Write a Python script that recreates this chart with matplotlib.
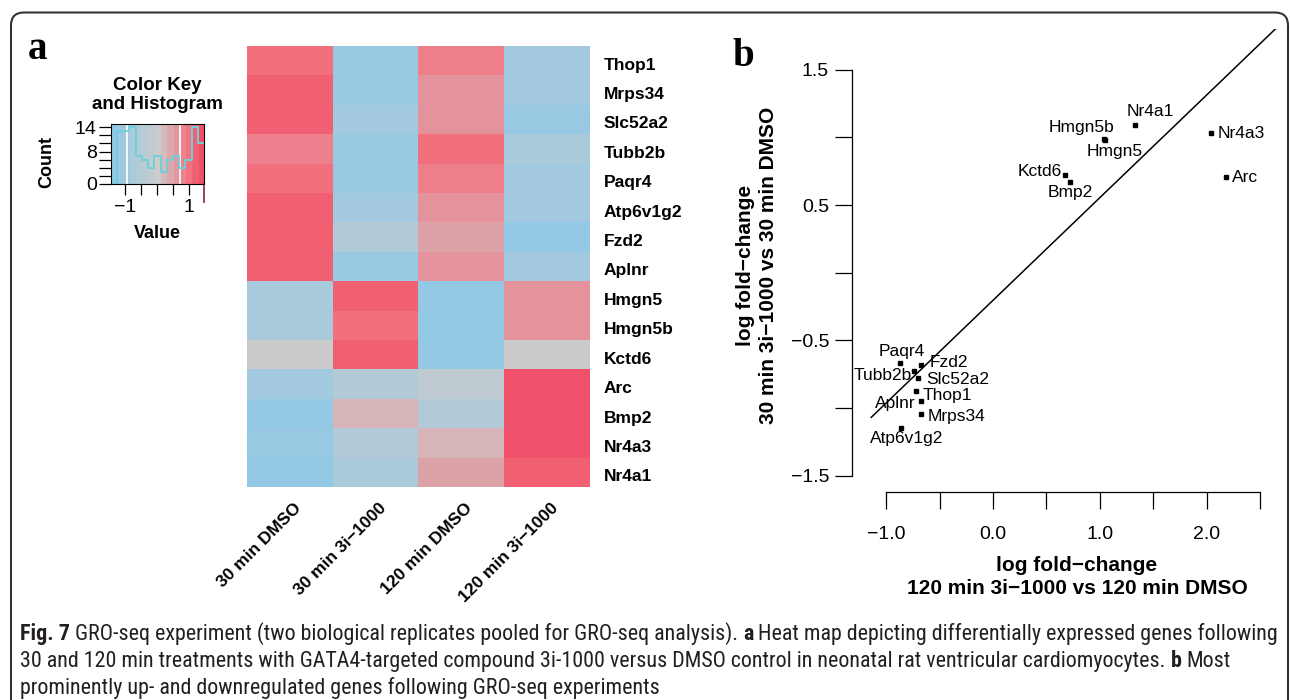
import matplotlib
matplotlib.use("Agg")
import matplotlib.pyplot as plt
import numpy as np
from matplotlib import font_manager
from matplotlib.colors import LinearSegmentedColormap
from matplotlib.patches import FancyBboxPatch
from matplotlib.transforms import IdentityTransform, ScaledTranslation

W, H, DPI = 1290, 700, 100

# ---- panel a: heat map (row-scaled values) ----
GENES = ["Thop1", "Mrps34", "Slc52a2", "Tubb2b", "Paqr4", "Atp6v1g2", "Fzd2", "Aplnr",
         "Hmgn5", "Hmgn5b", "Kctd6", "Arc", "Bmp2", "Nr4a3", "Nr4a1"]
CONDITIONS = ["30 min DMSO", "30 min 3i\u22121000", "120 min DMSO", "120 min 3i\u22121000"]
HEAT_VALUES = [
    [1.07, -1.28, 0.91, -1.07],   # Thop1
    [1.27, -1.28, 0.67, -1.07],   # Mrps34
    [1.27, -1.07, 0.67, -1.28],   # Slc52a2
    [0.88, -1.28, 1.07, -0.87],   # Tubb2b
    [1.07, -1.28, 0.91, -1.07],   # Paqr4
    [1.27, -1.07, 0.67, -1.07],   # Atp6v1g2
    [1.27, -0.64, 0.48, -1.41],   # Fzd2
    [1.27, -1.28, 0.67, -1.07],   # Aplnr
    [-0.87, 1.27, -1.41, 0.67],   # Hmgn5
    [-0.87, 1.07, -1.41, 0.67],   # Hmgn5b
    [0.00, 1.27, -1.41, 0.00],    # Kctd6
    [-1.07, -0.64, -0.33, 1.42],  # Arc
    [-1.41, 0.27, -0.64, 1.42],   # Bmp2
    [-1.28, -0.64, 0.27, 1.42],   # Nr4a3
    [-1.41, -0.87, 0.48, 1.27],   # Nr4a1
]

# colour key histogram
KEY_BREAKS = [-1.46, -1.27, -1.07, -0.88, -0.68, -0.49, -0.29, -0.10,
              0.10, 0.29, 0.49, 0.68, 0.88, 1.07, 1.27, 1.46]
KEY_COUNTS = [0, 13, 13, 14, 7, 6, 4, 7, 3, 6, 7, 4, 6, 14, 10]
KEY_VLINES = [-0.96, 0.71]

# ---- panel b: log fold-changes ----
SCATTER_GENES = ["Nr4a1", "Hmgn5b", "Hmgn5", "Nr4a3", "Arc", "Kctd6", "Bmp2", "Paqr4",
                 "Fzd2", "Tubb2b", "Slc52a2", "Thop1", "Aplnr", "Mrps34", "Atp6v1g2"]
LFC_120 = [1.33, 1.04, 1.05, 2.04, 2.18, 0.67, 0.72, -0.87,
           -0.67, -0.74, -0.70, -0.72, -0.67, -0.67, -0.86]
LFC_30 = [1.09, 0.99, 0.98, 1.03, 0.71, 0.72, 0.67, -0.67,
          -0.68, -0.73, -0.78, -0.875, -0.95, -1.045, -1.15]

# label placement: (dx px, dy px, ha)
LABEL_STYLE = {
    "Nr4a1": (15, -14, "center"), "Hmgn5b": (-23, -11, "center"), "Hmgn5": (10, 11, "center"),
    "Nr4a3": (7, 0, "left"), "Arc": (6, 1, "left"), "Kctd6": (-3, -4, "right"),
    "Bmp2": (0, 10, "center"), "Paqr4": (2, -12, "center"), "Fzd2": (8, -2, "left"),
    "Tubb2b": (-2, 4, "right"), "Slc52a2": (8, 1, "left"), "Thop1": (7, 5, "left"),
    "Aplnr": (-6, 2, "right"), "Mrps34": (6, 3, "left"), "Atp6v1g2": (6, 10, "center"),
}

plt.rcParams["font.family"] = ["Liberation Sans", "DejaVu Sans"]


def pick_caption_font():
    entries = font_manager.fontManager.ttflist
    names = {f.name for f in entries}
    for cand in ["Liberation Sans Narrow", "Noto Sans Condensed", "Roboto Condensed",
                 "Open Sans Condensed", "Noto Sans SemiCondensed", "Open Sans SemiCondensed"]:
        if cand in names:
            return cand, "normal"
    for fam in ["Noto Sans", "Open Sans", "Roboto"]:
        for f in entries:
            if f.name == fam and str(f.stretch) in ("condensed", "semi-condensed", "75", "87.5"):
                return fam, "condensed"
    return "Liberation Sans", "normal"


CAPTION_FONT, CAPTION_STRETCH = pick_caption_font()
CAPTION_COLOR = "#231f20"

cmap = LinearSegmentedColormap.from_list(
    "bgr", [(0.0, "#93c9e6"), (0.5, "#cccccc"), (0.866, "#f3717f"), (1.0, "#f0506a")])
VMAX = 1.46

fig = plt.figure(figsize=(W / DPI, H / DPI), dpi=DPI)


def px_axes(x0, y0, x1, y1):
    return fig.add_axes([x0 / W, 1 - y1 / H, (x1 - x0) / W, (y1 - y0) / H])


def px_text(x, y, s, **kw):
    return fig.text(x / W, 1 - y / H, s, **kw)


# frame around the figure
frame = FancyBboxPatch((11, -40), 1277, H - 12.5 + 40, boxstyle="round,pad=0,rounding_size=13",
                       transform=IdentityTransform(), fill=False, edgecolor="#333333", lw=1.5)
fig.patches.append(frame)

# panel letters
px_text(28, 59, "a", family="Liberation Serif", fontweight="bold", fontsize=28, va="baseline")
px_text(732, 66, "b", family="Liberation Serif", fontweight="bold", fontsize=28, va="baseline")

# ---- heat map ----
ax = px_axes(247, 46, 590, 487)
ax.imshow(np.array(HEAT_VALUES), cmap=cmap, vmin=-VMAX, vmax=VMAX, aspect="auto",
          interpolation="nearest")
ax.set_axis_off()
right_off = ax.transData + ScaledTranslation(14 / DPI, -4.5 / DPI, fig.dpi_scale_trans)
for i, g in enumerate(GENES):
    ax.text(len(CONDITIONS) - 0.5, i, g, transform=right_off, ha="left", va="center",
            fontweight="bold", fontsize=12.5)
down_off = ax.transData + ScaledTranslation(0, -13 / DPI, fig.dpi_scale_trans)
for j, c in enumerate(CONDITIONS):
    ax.text(j + 0.04, len(GENES) - 0.5, c, transform=down_off, rotation=45,
            rotation_mode="anchor", ha="right", va="top", fontweight="bold", fontsize=12.5)

# ---- colour key ----
kax = px_axes(110.7, 124.3, 204, 184)
ytop = max(KEY_COUNTS) / 0.95
grad = np.linspace(-VMAX, VMAX, 300)[None, :]
kax.imshow(grad, cmap=cmap.resampled(15), vmin=-VMAX, vmax=VMAX, aspect="auto",
           extent=[-VMAX, VMAX, 0, ytop], interpolation="nearest")
for v in KEY_VLINES:
    kax.axvline(v, color="white", lw=1.2)
kax.step(KEY_BREAKS, KEY_COUNTS + [KEY_COUNTS[-1]], where="post", color="#6fd0d8", lw=1.4)
kax.set_xlim(-VMAX, VMAX)
kax.set_ylim(0, ytop)
kax.set_xticks([-1, -0.5, 0, 0.5, 1])
kax.set_xticklabels(["\u22121", "", "", "", "1"])
kax.set_yticks(range(0, 15, 2))
kax.set_yticklabels(["0", "", "", "", "8", "", "", "14"])
kax.tick_params(axis="x", length=8, width=0.9, labelsize=14, pad=2.5)
kax.tick_params(axis="y", length=9, width=0.9, labelsize=14, pad=1)
for s in kax.spines.values():
    s.set_linewidth(0.8)
kax.plot([VMAX, VMAX], [0, -0.3 * ytop], color="#8b2035", lw=1.2, clip_on=False)
px_text(157, 95, "Color Key\nand Histogram", ha="center", va="center", fontweight="bold",
        fontsize=13.5, linespacing=1.15)
px_text(47, 162, "Count", ha="center", va="center", rotation=90, fontweight="bold", fontsize=13)
px_text(157, 234, "Value", ha="center", va="center", fontweight="bold", fontsize=13)

# ---- scatter ----
bx = px_axes(852, 29, 1290, 492)
bx.set_xlim(-1.32, 2.78)
bx.set_ylim(-1.622, 1.802)
bx.plot(LFC_120, LFC_30, "s", color="black", ms=2.4, clip_on=False)
slope, intercept = np.polyfit(LFC_120, LFC_30, 1)
xs = np.array([-1.14, 2.78])
bx.plot(xs, slope * xs + intercept, color="black", lw=1.1)
for g, x, y in zip(SCATTER_GENES, LFC_120, LFC_30):
    dx, dy, ha = LABEL_STYLE[g]
    bx.annotate(g, (x, y), xytext=(dx * 0.72, -dy * 0.72), textcoords="offset points",
                ha=ha, va="center", fontsize=12.5)
for side in ("top", "right"):
    bx.spines[side].set_visible(False)
bx.spines["left"].set_bounds(-1.5, 1.5)
bx.spines["bottom"].set_bounds(-1.0, 2.5)
for side in ("left", "bottom"):
    bx.spines[side].set_linewidth(0.9)
bx.set_xticks(np.arange(-1.0, 2.51, 0.5))
bx.set_xticklabels(["\u22121.0", "", "0.0", "", "1.0", "", "2.0", ""])
bx.set_yticks(np.arange(-1.5, 1.51, 0.5))
bx.set_yticklabels(["\u22121.5", "", "\u22120.5", "", "0.5", "", "1.5"])
bx.tick_params(axis="both", length=12.5, width=0.9, labelsize=14)
bx.tick_params(axis="x", pad=12)
bx.tick_params(axis="y", pad=4)
px_text(757, 265, "log fold\u2212change\n30 min 3i\u22121000 vs 30 min DMSO", ha="center",
        va="center", rotation=90, fontweight="bold", fontsize=15, linespacing=1.25,
        multialignment="center")
px_text(1077, 577, "log fold\u2212change\n120 min 3i\u22121000 vs 120 min DMSO", ha="center",
        va="center", fontweight="bold", fontsize=15, linespacing=1.3, multialignment="center")

# ---- caption ----
CAPTION = [
    [("Fig. 7", "bold"), (" GRO-seq experiment (two biological replicates pooled for GRO-seq analysis). ", "normal"),
     ("a", "bold"), (" Heat map depicting differentially expressed genes following", "normal")],
    [("30 and 120 min treatments with GATA4-targeted compound 3i-1000 versus DMSO control in neonatal rat ventricular cardiomyocytes. ", "normal"),
     ("b", "bold"), (" Most", "normal")],
    [("prominently up- and downregulated genes following GRO-seq experiments", "normal")],
]
renderer = fig.canvas.get_renderer()


def cap_text(x, y, s, size, weight, **kw):
    return px_text(x, y, s, fontsize=size, fontweight=weight, family=CAPTION_FONT,
                   fontstretch=CAPTION_STRETCH, **kw)


def text_width(s, size, weight):
    t = cap_text(0, 0, s, size, weight)
    w = t.get_window_extent(renderer).width
    t.remove()
    return w


def draw_runs(runs, x, y, size, draw=True):
    sw = text_width("x x", size, "normal") - text_width("xx", size, "normal")
    for s, weight in runs:
        core = s.strip(" ")
        lead = len(s) - len(s.lstrip(" "))
        trail = len(s) - len(s.rstrip(" "))
        x += lead * sw
        if draw:
            t = cap_text(x, y, core, size, weight, color=CAPTION_COLOR, va="baseline", ha="left")
            x += t.get_window_extent(renderer).width
        else:
            x += text_width(core, size, weight)
        x += trail * sw
    return x


base = 13.0
w0 = draw_runs(CAPTION[0], 20, 639, base, draw=False) - 20
cap_size = base * 1255 / w0
for k, runs in enumerate(CAPTION):
    draw_runs(runs, 20, 640 + 27 * k, cap_size)

fig.savefig("out.png", dpi=DPI)
